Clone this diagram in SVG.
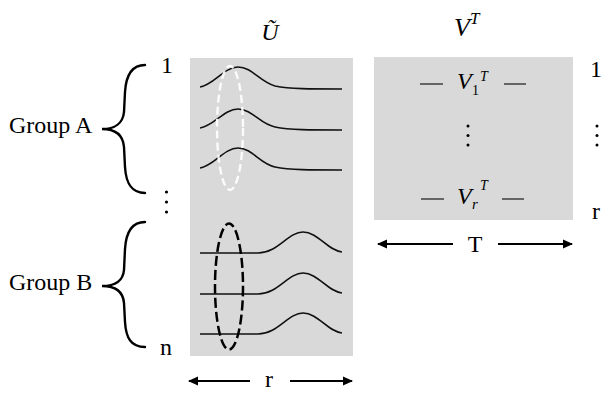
<svg xmlns="http://www.w3.org/2000/svg" width="615" height="404" viewBox="0 0 615 404">
<style>
.t{font-family:"Liberation Serif","Times New Roman",serif;font-size:24px;fill:#000}
.m{font-family:"Liberation Serif","Times New Roman",serif;font-style:italic;fill:#000}
.mat{fill:#d9d9d9}
.wave{fill:none;stroke:#111;stroke-width:1.6}
.brace{fill:none;stroke:#000;stroke-width:2.4;stroke-linecap:round}
.dash{stroke:#333;stroke-width:1.4}
.arr{stroke:#000;stroke-width:2;fill:none}
</style>
<defs>
<marker id="ah" viewBox="0 0 10 10" refX="9" refY="5" markerWidth="10" markerHeight="10" markerUnits="userSpaceOnUse" orient="auto-start-reverse">
<path d="M0,0.5 L10,5 L0,9.5 Z" fill="#000"/>
</marker>
</defs>
<rect width="615" height="404" fill="#fff"/>

<g id="U-matrix">
<rect class="mat" x="190" y="58" width="163" height="298"/>
<text class="m" x="270" y="40" font-size="24" text-anchor="middle">Ũ</text>
<g id="groupA-waves">
<path class="wave" d="M200,87 C214,85 224,67 238,67 C252,67 260,82 275,86 C290,89 310,89 342,89"/>
<path class="wave" d="M200,128 C214,126 224,109 238,109 C252,109 260,124 275,127 C290,130 310,130 342,130"/>
<path class="wave" d="M200,168 C214,166 224,148 238,148 C252,148 260,164 275,167 C290,170 310,170 342,170"/>
</g>
<g id="groupB-waves">
<path class="wave" d="M200,253 L258,253 C278,253 288,232 303,232 C318,232 328,251 342,252"/>
<path class="wave" d="M200,294 L258,294 C278,294 288,273 303,273 C318,273 328,292 342,293"/>
<path class="wave" d="M200,334 L258,334 C278,334 288,313 303,313 C318,313 328,332 342,333"/>
</g>
<ellipse cx="230" cy="128" rx="13" ry="62" fill="none" stroke="#fff" stroke-width="2.4" stroke-dasharray="8 4" opacity="0.9"/>
<ellipse cx="229" cy="286.5" rx="14" ry="63" fill="none" stroke="#000" stroke-width="2.5" stroke-dasharray="10 4"/>
</g>

<g id="V-matrix">
<rect class="mat" x="374" y="57" width="199" height="163"/>
<text class="m" x="454" y="36" font-size="26">V<tspan font-size="17" dy="-12">T</tspan></text>
<line class="dash" x1="420" y1="84" x2="443" y2="84"/>
<line class="dash" x1="504" y1="84" x2="526" y2="84"/>
<text class="m" font-size="24"><tspan x="457" y="89">V</tspan><tspan x="472" y="95" font-size="14" font-style="normal">1</tspan><tspan x="480" y="81" font-size="14">T</tspan></text>
<circle cx="468" cy="126" r="1.5"/>
<circle cx="468" cy="135.5" r="1.5"/>
<circle cx="468" cy="145" r="1.5"/>
<line class="dash" x1="421" y1="199" x2="444" y2="199"/>
<line class="dash" x1="502" y1="199" x2="524" y2="199"/>
<text class="m" font-size="24"><tspan x="457" y="204">V</tspan><tspan x="472" y="209" font-size="15">r</tspan><tspan x="480" y="190" font-size="14">T</tspan></text>
</g>

<g id="row-labels-right">
<text class="t" x="596" y="77" text-anchor="middle" font-size="21">1</text>
<circle cx="597" cy="126" r="1.5"/>
<circle cx="597" cy="135.5" r="1.5"/>
<circle cx="597" cy="145" r="1.5"/>
<text class="t" x="596" y="219" text-anchor="middle">r</text>
</g>

<g id="row-labels-left">
<text class="t" x="167" y="73" text-anchor="middle">1</text>
<circle cx="166.5" cy="192" r="1.6"/>
<circle cx="166.5" cy="202" r="1.6"/>
<circle cx="166.5" cy="212" r="1.6"/>
<text class="t" x="166" y="355" text-anchor="middle">n</text>
</g>

<g id="group-A">
<path class="brace" d="M145,65 C131,65 126,76 125,92 L124,112 C123,123 115,129 102,129 C115,129 123,135 124,147 L125,167 C126,183 131,193 145,193"/>
<text class="t" x="9" y="133">Group A</text>
</g>

<g id="group-B">
<path class="brace" d="M145,222 C131,222 126,233 125,249 L124,270 C123,281 115,286 102,286 C115,286 123,291 124,303 L125,322 C126,338 131,347 145,347"/>
<text class="t" x="9" y="290">Group B</text>
</g>

<g id="connectors">
<line class="arr" x1="250" y1="381" x2="189" y2="381" marker-end="url(#ah)"/>
<line class="arr" x1="290" y1="381" x2="352" y2="381" marker-end="url(#ah)"/>
<text class="t" x="269" y="387" text-anchor="middle">r</text>
<line class="arr" x1="453" y1="244" x2="378" y2="244" marker-end="url(#ah)"/>
<line class="arr" x1="498" y1="244" x2="572" y2="244" marker-end="url(#ah)"/>
<text class="t" x="475" y="252" text-anchor="middle">T</text>
</g>
</svg>
